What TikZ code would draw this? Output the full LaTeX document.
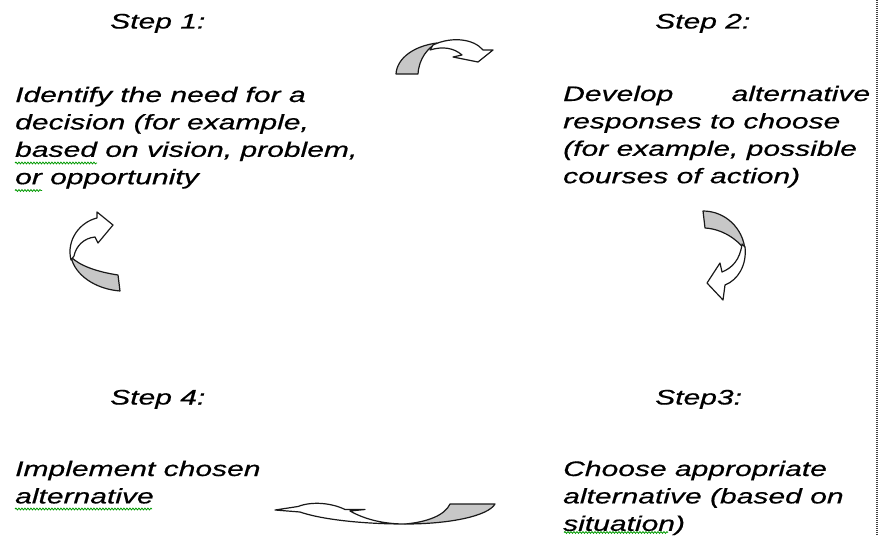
\documentclass[tikz,border=0pt]{standalone}
\usepackage{fontspec}
\setmainfont{Liberation Sans}[FakeStretch=1.43, FakeBold=0.6]
\usetikzlibrary{decorations.pathmorphing}
\newcommand\mylines[1]{\begin{tabular}[t]{@{}l@{}}#1\end{tabular}}
\begin{document}
\begin{tikzpicture}[x=1pt,y=-1pt,
  txt/.style={anchor=base west, inner sep=0pt, font=\fontsize{21}{27.4}\selectfont\itshape},
  tailpart/.style={fill=black!22, draw=black!90, line width=1.2pt, line join=round},
  headpart/.style={fill=white, draw=black!90, line width=1.2pt, line join=round},
  wavy/.style={draw=green!60!black, line width=0.8pt, decorate, decoration={snake, amplitude=0.9pt, segment length=3pt}},
  sep/.style={draw=black!75, line width=1.3pt, dash pattern=on 1pt off 1pt}]
\useasboundingbox (0,0) rectangle (882,535);
% dotted margin line
\coordinate (dtop) at (877,0);
\coordinate (dbot) at (877,535);
\draw[sep] (dtop) -- (dbot);
% texts
\node[txt] (s1) at (110,28.5) {Step 1:};
\node[txt] (s2) at (655,28.5) {Step 2:};
\node[txt] (s4) at (110,404.5) {Step 4:};
\node[txt] (s3) at (655,404.5) {Step3:};
\node[txt] (p1) at (15,102) {\mylines{Identify the need for a\\ decision (for example,\\ based on vision, problem,\\ or opportunity}};
\node[txt] (p2) at (563,101) {\mylines{\makebox[307pt][s]{Develop alternative}\\ responses to choose\\ (for example, possible\\ courses of action)}};
\node[txt] (p4) at (15,476) {\mylines{Implement chosen\\ alternative}};
\node[txt] (p3) at (563,476) {\mylines{Choose appropriate\\ alternative (based on\\ situation)}};
% spell-check underlines
\draw[wavy] (15,163) -- (97,163);
\draw[wavy] (15,190.5) -- (42,190.5);
\draw[wavy] (15,509) -- (152,509);
\draw[wavy] (564,532.5) -- (668,532.5);
% top arrow (step 1 -> step 2)
\path[tailpart] (396,74) .. controls (397,58) and (414,46) .. (437,43) .. controls (428,48) and (419,58) .. (418,74) -- cycle;
\path[headpart] (433,45) .. controls (452,36) and (474,39) .. (483,50) -- (493,50) -- (478,62) -- (453,57) -- (462,55) .. controls (454,48) and (443,46) .. (430,50) -- cycle;
% right arrow (step 2 -> step 3)
\path[tailpart] (703,211) .. controls (725,211) and (743,228) .. (745,250) .. controls (737,239) and (722,229) .. (705,228) -- cycle;
\path[headpart] (745,247) .. controls (747,265) and (738,280) .. (725,285) -- (723,300) -- (707,283) -- (720,263) -- (722,272) .. controls (732,268) and (740,260) .. (742,244) -- cycle;
% bottom arrow (step 3 -> step 4)
\path[tailpart] (450,504) -- (495,504) .. controls (488,516) and (450,524) .. (405,524) .. controls (428,522) and (445,515) .. (450,504) -- cycle;
\path[headpart] (405,524) .. controls (360,524) and (320,519) .. (300,512) -- (275,510) -- (298,506.5) .. controls (312,501) and (332,503) .. (345,509.5) -- (365,509.5) -- (350,511) .. controls (366,520) and (385,524) .. (405,524) -- cycle;
% left arrow (step 4 -> step 1)
\path[tailpart] (118,275) -- (120,291) .. controls (95,289) and (75,275) .. (71,257) .. controls (80,266) and (98,272) .. (118,275) -- cycle;
\path[headpart] (71,260) .. controls (66,240) and (80,222) .. (97,218) -- (97,212) -- (113,225) -- (98,243) -- (95,237) .. controls (84,238) and (76,246) .. (74,256) -- cycle;
\end{tikzpicture}
\end{document}
